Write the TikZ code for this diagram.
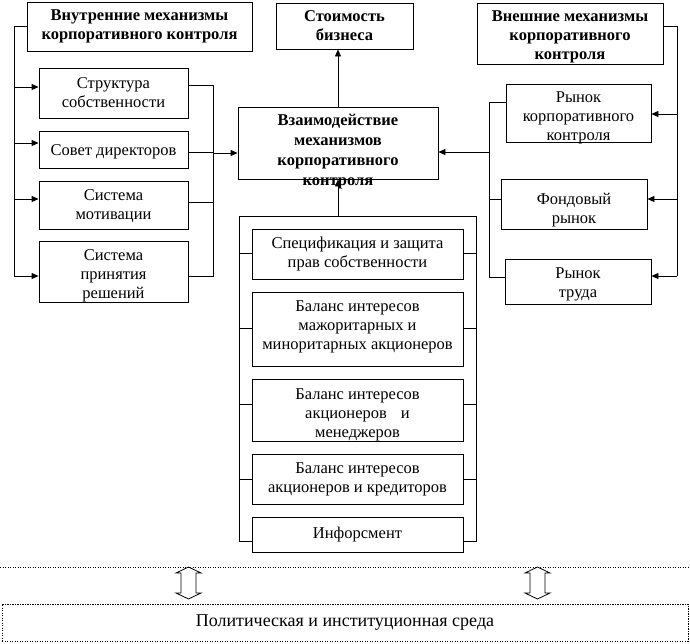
\documentclass[tikz,border=0pt]{standalone}
\usepackage{fontspec}
\setmainfont{Liberation Serif}
\usetikzlibrary{arrows.meta,fit}
\newcommand{\fsn}{\fontsize{16.5}{19}\selectfont}
\newcommand{\fsc}{\fontsize{16.5}{20}\selectfont}
\newcommand{\fsb}{\fontsize{18}{21}\selectfont}
\begin{document}
\begin{tikzpicture}[x=1pt,y=-1pt,
 box/.style={draw, line width=0.8pt, inner sep=0pt},
 txt/.style={align=center, font=\fsn, inner sep=0pt},
 bld/.style={align=center, font=\fsn\bfseries, inner sep=0pt},
 ln/.style={line width=0.8pt},
 arr/.style={ln, -{Triangle[length=7pt,width=6pt]}},
 dots/.style={line width=0.8pt, dash pattern=on 1.2pt off 1.3pt}]
\useasboundingbox (0,0) rectangle (690,643);

% boxes
\node[box, fit={(27,2) (252,51)}] (bin) {};
\node[bld] (bin-t) at (bin.center) {Внутренние механизмы\\корпоративного контроля};
\node[box, fit={(276,3) (413,49)}] (cost) {};
\node[bld] (cost-t) at (cost.center) {Стоимость\\бизнеса};
\node[box, fit={(477,3) (663,64)}] (bout) {};
\node[bld, yshift=-3.5pt] (bout-t) at (bout.center) {Внешние механизмы\\корпоративного\\контроля};

\node[box, fit={(39,68) (188,118)}] (ls1) {};
\node[txt] (ls1-t) at (ls1.center) {Структура\\собственности};
\node[box, fit={(39,131) (188,168)}] (ls2) {};
\node[txt, yshift=-2pt] (ls2-t) at (ls2.center) {Совет директоров};
\node[box, fit={(39,181) (188,229)}] (ls3) {};
\node[txt, yshift=-1pt] (ls3-t) at (ls3.center) {Система\\мотивации};
\node[box, fit={(39,241) (188,302)}] (ls4) {};
\node[txt, yshift=-4.5pt] (ls4-t) at (ls4.center) {Система\\принятия\\решений};

\node[box, fit={(238,107) (438,179)}] (mid) {};
\node[bld, font=\fsc\bfseries, yshift=-8.5pt] (mid-t) at (mid.center) {Взаимодействие\\механизмов\\корпоративного\\контроля};

\node[box, fit={(506,84) (651,142)}] (rs1) {};
\node[txt, yshift=-5pt] (rs1-t) at (rs1.center) {Рынок\\корпоративного\\контроля};
\node[box, fit={(501,179) (647,229)}] (rs2) {};
\node[txt, yshift=-6pt] (rs2-t) at (rs2.center) {Фондовый\\рынок};
\node[box, fit={(505,259) (651,304)}] (rs3) {};
\node[txt, yshift=-3pt] (rs3-t) at (rs3.center) {Рынок\\труда};

\node[box, fit={(252,229) (463,279)}] (b1) {};
\node[txt] (b1-t) at (b1.center) {Спецификация и защита\\прав собственности};
\node[box, fit={(252,292) (463,366)}] (b2) {};
\node[txt, yshift=2pt] (b2-t) at (b2.center) {Баланс интересов\\мажоритарных и\\миноритарных акционеров};
\node[box, fit={(252,379) (463,441)}] (b3) {};
\node[txt, yshift=-5pt] (b3-t) at (b3.center) {Баланс интересов\\акционеров\hspace{14pt}и\\менеджеров};
\node[box, fit={(252,454) (463,504)}] (b4) {};
\node[txt] (b4-t) at (b4.center) {Баланс интересов\\акционеров\hspace{4pt}и кредиторов};
\node[box, fit={(252,517) (463,552)}] (b5) {};
\node[txt] (b5-t) at (b5.center) {Инфорсмент};

\node[box, dots, fit={(2,604) (688,641)}] (env) {};
\node[txt, font=\fsb] (env-t) at (env.center) {Политическая и институционная среда};

% left bus
\coordinate (lbT) at (14,26);
\coordinate (a1) at ([yshift=6pt]ls1.west);
\coordinate (a2) at ([yshift=6.5pt]ls2.west);
\coordinate (a3) at ([yshift=6pt]ls3.west);
\coordinate (a4) at ([yshift=-4.5pt]ls4.west);
\draw[ln] (bin.west |- lbT) -- (lbT) -- (lbT |- a4);
\draw[arr] (lbT |- a1) -- (a1);
\draw[arr] (lbT |- a2) -- (a2);
\draw[arr] (lbT |- a3) -- (a3);
\draw[arr] (lbT |- a4) -- (a4);

% right of left boxes
\coordinate (rbx) at (213,0);
\coordinate (e1) at ([yshift=8pt]ls1.east);
\coordinate (e2) at ([yshift=-3pt]ls2.east);
\coordinate (e3) at ([yshift=3pt]ls3.east);
\coordinate (e4) at ([yshift=-4.5pt]ls4.east);
\draw[ln] (e1) -- (e1 -| rbx) -- (e4 -| rbx) -- (e4);
\draw[ln] (e2) -- (e2 -| rbx);
\draw[ln] (e3) -- (e3 -| rbx);
\coordinate (m1) at ([yshift=-10pt]mid.west);
\draw[arr] (m1 -| rbx) -- (m1);

% right bus
\coordinate (obT) at (677,26);
\coordinate (r1) at ([yshift=-1pt]rs1.east);
\coordinate (r2) at ([yshift=5pt]rs2.east);
\coordinate (r3) at ([yshift=5.5pt]rs3.east);
\draw[ln] (bout.east |- obT) -- (obT) -- (obT |- r3);
\draw[arr] (obT |- r1) -- (r1);
\draw[arr] (obT |- r2) -- (r2);
\draw[arr] (obT |- r3) -- (r3);

% left of right boxes
\coordinate (lbx) at (489,0);
\coordinate (w1) at ([yshift=11pt]rs1.west);
\coordinate (w2) at ([yshift=5pt]rs2.west);
\coordinate (w3) at ([yshift=4.5pt]rs3.west);
\draw[ln] (w1) -- (w1 -| lbx) -- (w3 -| lbx) -- (w3);
\draw[ln] (w2) -- (w2 -| lbx);
\coordinate (m2) at ([yshift=-9pt]mid.east);
\draw[arr] (m2 -| lbx) -- (m2);

% up to cost
\draw[arr] (mid.north) -- (mid.north |- cost.south);

% bottom group
\coordinate (bL) at (239,216);
\coordinate (bR) at (476,216);
\draw[arr] (mid.south |- bL) -- (mid.south);
\coordinate (c1) at ([yshift=1pt]b1.west);
\coordinate (c2) at ([yshift=1pt]b2.west);
\coordinate (c3) at ([yshift=6pt]b3.west);
\coordinate (c4) at (b4.west);
\coordinate (c5) at ([yshift=-6.5pt]b5.west);
\coordinate (d1) at ([yshift=1pt]b1.east);
\coordinate (d2) at ([yshift=1pt]b2.east);
\coordinate (d3) at ([yshift=6pt]b3.east);
\coordinate (d4) at (b4.east);
\coordinate (d5) at ([yshift=-6.5pt]b5.east);
\draw[ln] (c5) -- (c5 -| bL) -- (bL) -- (bR) -- (bR |- d5) -- (d5);
\foreach \k in {1,2,3,4}{
  \draw[ln] (c\k) -- (c\k -| bL);
  \draw[ln] (d\k) -- (d\k -| bR);
}

% dotted separator
\coordinate (dl) at (0,567);
\coordinate (dr) at (690,567);
\draw[dots] (dl) -- (dr);

% double arrows
\foreach \cx in {188.5,537.5}{
  \draw[ln, line join=miter] (\cx,567) -- ++(12.5,6) -- ++(-5,0) -- ++(0,20) -- ++(5,0)
    -- (\cx,599) -- ++(-12.5,-6) -- ++(5,0) -- ++(0,-20) -- ++(-5,0) -- cycle;
}
\end{tikzpicture}
\end{document}
